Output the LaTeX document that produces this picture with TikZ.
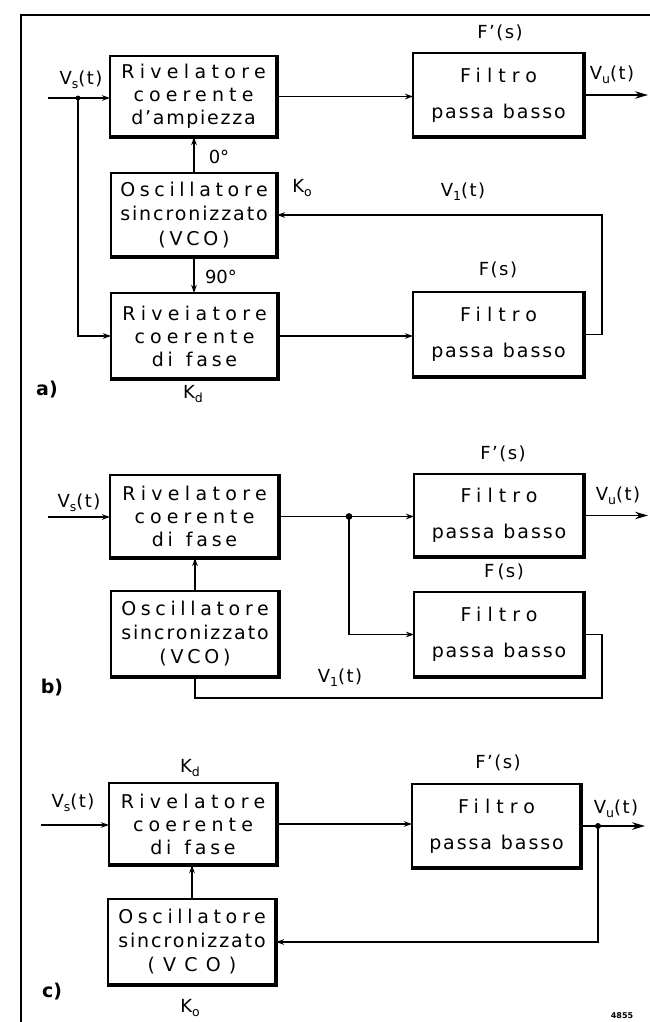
\documentclass[tikz,border=0pt]{standalone}
\usepackage{fontspec}
\setmainfont{DejaVu Sans}
\usetikzlibrary{arrows.meta}
\newcommand{\LS}[2]{{\addfontfeatures{LetterSpace=#1}#2}}
\newcommand{\Lb}[1]{{\addfontfeatures{LetterSpace=8}#1}}
\newcommand{\sbs}[1]{\raisebox{-0.4ex}{\fontsize{12.5}{12}\selectfont #1}}
\newcommand{\Riv}{\LS{28}{Rivelatore}}
\newcommand{\Coe}{\LS{27}{coerente}}
\newcommand{\Dif}{\LS{20}{di\ \hspace{3pt}fase}}
\newcommand{\Osc}{\LS{24.5}{Oscillatore}}
\newcommand{\Sin}{\LS{10}{sincronizzato}}
\newcommand{\Fil}{\LS{32}{Filtro}}
\newcommand{\Pas}{\LS{10}{passa\ \hspace{1pt}basso}}
\begin{document}
\begin{tikzpicture}[x=1pt,y=-1pt,
  every node/.style={font=\fontsize{18}{23}\selectfont, inner sep=0pt, outer sep=0pt},
  box/.style={draw, line width=1.6pt, align=center, font=\fontsize{19}{23}\selectfont},
  conn/.style={line width=1.6pt},
  arr/.style={conn, -{Stealth[length=8pt,width=5.5pt]}},
  bigarr/.style={conn, -{Stealth[length=13pt,width=7.5pt]}},
  lab/.style={anchor=center},
  shadowline/.style={line width=3.6pt, line join=miter}
]
\useasboundingbox (0,0) rectangle (650,1022);
% frame
\draw[line width=2.4pt] (21,1022) -- (21,15) -- (650,15);

% ---------- panel a ----------
\node[box, minimum width=167pt, minimum height=81pt] (A1) at (193.5,96.5)
  {\Riv\\[-0.5pt]\Coe\\[0pt]\LS{9}{d'ampiezza}};
\node[box, minimum width=171pt, minimum height=84pt] (AF1) at (498.5,95)
  {\Fil\\[13pt]\Pas};
\node[box, minimum width=166pt, minimum height=84pt] (AV) at (194,215)
  {\Osc\\[1pt]\Sin\\[2pt]\LS{20}{(VCO)}};
\node[box, minimum width=167pt, minimum height=86pt] (A3) at (194.5,336)
  {\LS{28}{Riveiatore}\\[0pt]\Coe\\[0pt]\Dif};
\node[box, minimum width=171pt, minimum height=85pt] (AF2) at (498.5,334.5)
  {\Fil\\[13pt]\Pas};

\coordinate (ain) at (48,98);
\coordinate (adot) at (78,98);
\coordinate (aout) at (648,95);
\draw[arr] (ain) -- (ain -| A1.west);
\draw[arr] (A1.east) -- (A1.east -| AF1.west);
\draw[bigarr] (AF1.east) -- (aout);
\draw[arr] (AV.north) -- (AV.north |- A1.south);
\draw[arr] (AV.south) -- (AV.south |- A3.north);
\draw[arr] (AF2.east) -- ++(18,0) |- (AV.east);
\draw[arr] (adot) |- (A3.west);
\draw[arr] (A3.east) -- (A3.east -| AF2.west);
\fill (adot) circle (2.4pt);

\node[lab] (la1) at (500,33) {\Lb{F'(s)}};
\node[lab] (la2) at (81,80) {\Lb{V\sbs{s}(t)}};
\node[lab] (la3) at (612,75) {\Lb{V\sbs{u}(t)}};
\node[lab] (la4) at (219,157) {0°};
\node[lab] (la5) at (302,188) {K\sbs{o}};
\node[lab] (la6) at (463,192) {\Lb{V\sbs{1}(t)}};
\node[lab] (la7) at (221,277) {90°};
\node[lab] (la8) at (498,270) {\Lb{F(s)}};
\node[lab, font=\fontsize{19}{23}\selectfont\bfseries] (la9) at (47,390) {a)};
\node[lab] (la10) at (193,394) {K\sbs{d}};

% ---------- panel b ----------
\node[box, minimum width=169pt, minimum height=83pt] (B1) at (194.5,516.5)
  {\Riv\\[0pt]\Coe\\[0pt]\Dif};
\node[box, minimum width=170pt, minimum height=83pt] (BF1) at (499,515.5)
  {\Fil\\[13pt]\Pas};
\node[box, minimum width=170pt, minimum height=85pt] (BF2) at (499,634.5)
  {\Fil\\[13pt]\Pas};
\node[box, minimum width=168pt, minimum height=86pt] (BV) at (195,634)
  {\Osc\\[1pt]\Sin\\[1pt]\LS{20}{(VCO)}};

\coordinate (bin) at (48,517);
\coordinate (bdot) at (349,516.5);
\coordinate (bout) at (648,515.5);
\coordinate (bcorner) at (602,698);
\draw[arr] (bin) -- (bin -| B1.west);
\draw[arr] (B1.east) -- (B1.east -| BF1.west);
\draw[bigarr] (BF1.east) -- (bout);
\draw[arr] (bdot) |- (BF2.west);
\draw[conn] (BF2.east) -| (bcorner) -| (BV.south);
\draw[arr] (BV.north) -- (BV.north |- B1.south);
\fill (bdot) circle (3.4pt);

\node[lab] (lb1) at (503,454) {\Lb{F'(s)}};
\node[lab] (lb2) at (79,503) {\Lb{V\sbs{s}(t)}};
\node[lab] (lb3) at (618,496) {\Lb{V\sbs{u}(t)}};
\node[lab] (lb4) at (504,572) {\Lb{F\,(s)}};
\node[lab, font=\fontsize{19}{23}\selectfont\bfseries] (lb5) at (52,688) {b)};
\node[lab] (lb6) at (340,678) {\Lb{V\sbs{1}(t)}};

% ---------- panel c ----------
\node[box, minimum width=168pt, minimum height=82pt] (C1) at (193,824)
  {\Riv\\[0pt]\Coe\\[0pt]\Dif};
\node[box, minimum width=169pt, minimum height=84pt] (CF) at (496.5,826)
  {\Fil\\[13pt]\Pas};
\node[box, minimum width=168pt, minimum height=86pt] (CV) at (192,942)
  {\Osc\\[1pt]\Sin\\[1pt]\LS{43}{(VCO)}};

\coordinate (cin) at (41,825);
\coordinate (cdot) at (598,826);
\coordinate (cout) at (645,826);
\draw[arr] (cin) -- (cin -| C1.west);
\draw[arr] (C1.east) -- (C1.east -| CF.west);
\draw[bigarr] (CF.east) -- (cout);
\draw[arr] (cdot) |- (CV.east);
\draw[arr] (CV.north) -- (CV.north |- C1.south);
\fill (cdot) circle (3pt);

\node[lab] (lc1) at (190,768) {K\sbs{d}};
\node[lab] (lc2) at (498,763) {\Lb{F'(s)}};
\node[lab] (lc3) at (73,803) {\Lb{V\sbs{s}(t)}};
\node[lab] (lc4) at (616,809) {\Lb{V\sbs{u}(t)}};
\node[lab, font=\fontsize{19}{23}\selectfont\bfseries] (lc5) at (52,992) {c)};
\node[lab] (lc6) at (190,1008) {K\sbs{o}};
\node[lab, font=\fontsize{8}{8}\selectfont\bfseries] (lc7) at (622,1016) {4855};

% thick lower/right edges of the boxes
\foreach \n in {A1,AF1,AV,A3,AF2,B1,BF1,BF2,BV,C1,CF,CV}
  \draw[shadowline] ([yshift=0.8pt]\n.north east) -- (\n.south east) -- ([xshift=-0.8pt]\n.south west);
\end{tikzpicture}
\end{document}
